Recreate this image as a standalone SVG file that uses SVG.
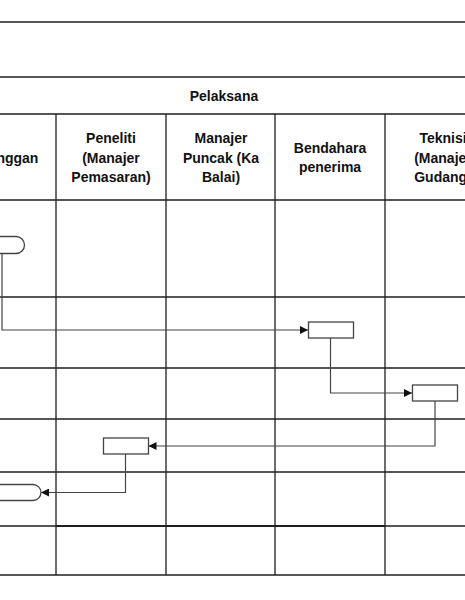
<svg xmlns="http://www.w3.org/2000/svg" width="465" height="600" viewBox="0 0 465 600">
<style>
.grid{stroke:#1e1e1e;stroke-width:1.3;fill:none}
.hdr{font-family:"Liberation Sans",Arial,sans-serif;font-weight:bold;font-size:14px;fill:#111;text-anchor:middle}
.shape{fill:#fff;stroke:#444;stroke-width:1.3}
.conn{fill:none;stroke:#444;stroke-width:1.2}
</style>
<defs>
<marker id="arr" viewBox="0 0 8 8" refX="8" refY="4" markerWidth="8" markerHeight="8" markerUnits="userSpaceOnUse" orient="auto">
<path d="M0,0 L8,4 L0,8 Z" fill="#111"/>
</marker>
</defs>
<rect width="465" height="600" fill="#fff"/>
<g id="table">
<line class="grid" x1="0" y1="22" x2="465" y2="22"/>
<line class="grid" x1="0" y1="77" x2="465" y2="77"/>
<line class="grid" x1="0" y1="114" x2="465" y2="114"/>
<line class="grid" x1="0" y1="200" x2="465" y2="200"/>
<line class="grid" x1="0" y1="297" x2="465" y2="297"/>
<line class="grid" x1="0" y1="368" x2="465" y2="368"/>
<line class="grid" x1="0" y1="419" x2="465" y2="419"/>
<line class="grid" x1="0" y1="472" x2="465" y2="472"/>
<line class="grid" x1="0" y1="526" x2="465" y2="526"/>
<line class="grid" x1="56" y1="526" x2="385" y2="526" style="stroke-width:1.8"/>
<line class="grid" x1="0" y1="575" x2="465" y2="575"/>
<line class="grid" x1="56" y1="114" x2="56" y2="575"/>
<line class="grid" x1="166" y1="114" x2="166" y2="575"/>
<line class="grid" x1="275" y1="114" x2="275" y2="575"/>
<line class="grid" x1="385" y1="114" x2="385" y2="575"/>
</g>
<g id="headers">
<text class="hdr" x="224" y="101">Pelaksana</text>
<text class="hdr" x="3" y="163">Pelanggan</text>
<text class="hdr" x="111" y="143">Peneliti</text>
<text class="hdr" x="111" y="163">(Manajer</text>
<text class="hdr" x="111" y="182">Pemasaran)</text>
<text class="hdr" x="221" y="143">Manajer</text>
<text class="hdr" x="221" y="163">Puncak (Ka</text>
<text class="hdr" x="221" y="182">Balai)</text>
<text class="hdr" x="330" y="153">Bendahara</text>
<text class="hdr" x="330" y="172">penerima</text>
<text class="hdr" x="443" y="143">Teknisi</text>
<text class="hdr" x="443" y="163">(Manajer</text>
<text class="hdr" x="443" y="182">Gudang)</text>
</g>
<g id="connectors">
<path class="conn" d="M2,253 V330 H308" marker-end="url(#arr)"/>
<path class="conn" d="M330.5,338 V393 H412" marker-end="url(#arr)"/>
<path class="conn" d="M435,401 V446 H148.5" marker-end="url(#arr)"/>
<path class="conn" d="M125.5,454 V492.5 H41" marker-end="url(#arr)"/>
</g>
<g id="start">
<path class="shape" d="M-10,236.5 H16 A8.5,8.5 0 0 1 16,253.5 H-10 Z"/>
</g>
<g id="process1">
<rect class="shape" x="308.5" y="322" width="45" height="16"/>
</g>
<g id="process2">
<rect class="shape" x="412.5" y="385" width="45" height="16"/>
</g>
<g id="process3">
<rect class="shape" x="103.5" y="438" width="45" height="16"/>
</g>
<g id="end">
<path class="shape" d="M-10,484.5 H33 A8,8 0 0 1 33,500.5 H-10 Z"/>
</g>
</svg>
